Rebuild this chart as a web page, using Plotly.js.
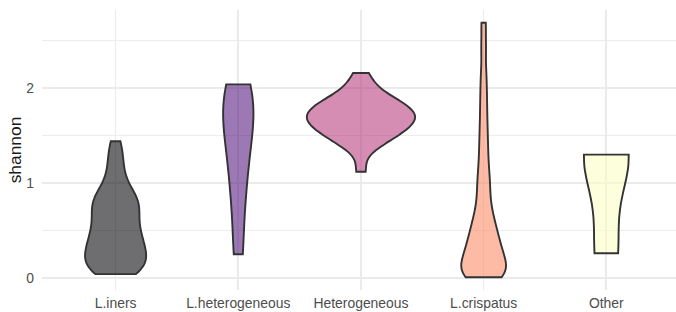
<!DOCTYPE html>
<html>
<head>
<meta charset="utf-8">
<script src="https://cdn.plot.ly/plotly-3.0.1.min.js"></script>
<style>
html,body{margin:0;padding:0;background:#ffffff;}
#chart{width:676px;height:312px;}
</style>
</head>
<body>
<div id="chart"></div>
<script>
// ---- data (shannon diversity per sample, grouped by community type) ----
const categories = ['L.iners', 'L.heterogeneous', 'Heterogeneous', 'L.crispatus', 'Other'];

const linersShannon = [0.04, 0.05, 0.065, 0.085, 0.11, 0.135, 0.16, 0.185, 0.21, 0.235,
  0.26, 0.285, 0.31, 0.335, 0.36, 0.39, 0.42, 0.45, 0.48, 0.51, 0.545, 0.58, 0.615,
  0.65, 0.69, 0.72, 0.75, 0.78, 0.81, 0.84, 0.87, 0.91, 0.96, 1.03, 1.12, 1.22, 1.32, 1.44];

const lHeteroShannon = [0.25, 0.8, 1.15, 1.43, 1.64, 1.8, 1.94, 2.04];

const heteroShannon = [1.12, 1.34, 1.41, 1.45, 1.48, 1.51, 1.53, 1.56, 1.58, 1.60,
  1.62, 1.64, 1.66, 1.67, 1.69, 1.71, 1.73, 1.74, 1.76, 1.78, 1.80, 1.82, 1.84,
  1.87, 1.89, 1.93, 1.98, 2.05, 2.16];

const crispatusShannon = [0.007, 0.01, 0.02, 0.03, 0.045, 0.055, 0.08, 0.11, 0.14,
  0.17, 0.2, 0.23, 0.26, 0.29, 0.325, 0.36, 0.4, 0.44, 0.48, 0.53, 0.58, 0.63, 0.7,
  0.78, 0.88, 0.98, 1.06, 1.18, 1.31, 1.45, 1.6, 1.77, 1.95, 2.15, 2.42, 2.69];

const otherShannon = [0.26, 1.28, 1.30];

const yTickValues = [0, 1, 2];
const yTickLabels = ['0', '1', '2'];
const yMinorValues = [0.5, 1.5, 2.5];

// ---- styling ----
const groupValues = [linersShannon, lHeteroShannon, heteroShannon, crispatusShannon, otherShannon];
const fillColors = ['rgba(0,0,4,0.57)', 'rgba(81,18,124,0.57)', 'rgba(182,54,121,0.57)',
                    'rgba(251,136,97,0.57)', 'rgba(252,253,191,0.57)'];
const bandwidths = [0.12, 0.34, 0.1, 0.13, 0.4];
const maxWidths = [0.498, 0.247, 0.882, 0.365, 0.365];

const traces = categories.map((cat, i) => ({
  type: 'violin',
  x: groupValues[i].map(() => cat),
  y: groupValues[i],
  name: cat,
  spanmode: 'hard',
  bandwidth: bandwidths[i],
  scalemode: 'width',
  width: maxWidths[i],
  fillcolor: fillColors[i],
  line: {color: '#333333', width: 1.9},
  points: false,
  box: {visible: false},
  meanline: {visible: false},
  hoverinfo: 'skip',
  showlegend: false
}));

const fontFam = '"Liberation Sans", Arial, "DejaVu Sans", sans-serif';

const layout = {
  width: 676,
  height: 312,
  margin: {l: 42, r: 0, t: 10, b: 22},
  paper_bgcolor: '#ffffff',
  plot_bgcolor: '#ffffff',
  violinmode: 'overlay',
  font: {family: fontFam, color: '#4d4d4d'},
  xaxis: {
    type: 'category',
    categoryorder: 'array',
    categoryarray: categories,
    range: [-0.6, 4.568],
    showgrid: true,
    gridcolor: '#ebebeb',
    gridwidth: 1.7,
    zeroline: false,
    showline: false,
    ticks: '',
    ticklabelstandoff: 3,
    tickfont: {size: 13.9, color: '#4d4d4d', family: fontFam},
    automargin: false
  },
  yaxis: {
    range: [-0.127, 2.824],
    tickmode: 'array',
    tickvals: yTickValues,
    ticktext: yTickLabels,
    showgrid: true,
    gridcolor: '#ebebeb',
    gridwidth: 1.7,
    minor: {tickmode: 'array', tickvals: yMinorValues, showgrid: true, gridcolor: '#ebebeb', gridwidth: 0.9},
    zeroline: false,
    showline: false,
    ticks: '',
    ticklabelstandoff: 7,
    tickfont: {size: 13.9, color: '#4d4d4d', family: fontFam},
    title: {text: 'shannon', font: {size: 17.4, color: '#1a1a1a', family: fontFam}, standoff: 0},
    automargin: false
  }
};

Plotly.newPlot('chart', traces, layout, {displayModeBar: false, staticPlot: true});
</script>
</body>
</html>
